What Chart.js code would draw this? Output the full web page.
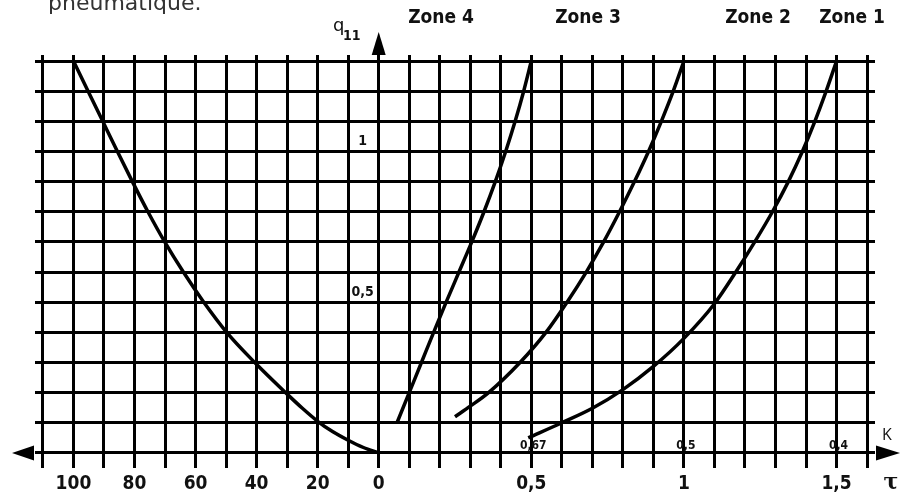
<!DOCTYPE html>
<html lang="fr">

<head>
  <meta charset="UTF-8">
  <title>Zones q11</title>
  <script src="https://cdn.jsdelivr.net/npm/chart.js"></script>
  <style>
    body {
      margin: 0;
      background: #fff;
    }

    .chart-container {
      position: relative;
      width: 911px;
      height: 497px;
    }
  </style>
</head>

<body>
  <div class="chart-container"><canvas id="g"></canvas></div>

  <script>
    // courbe gauche (en %)
    const leftPct = [100, 95.2, 90.4, 85.6, 80.7, 75.6, 70.1, 64, 57.3, 49.8, 40.6, 30.5, 25, 20, 15, 10, 5, 0];
    const leftQ = [1.3, 1.2, 1.1, 1.0, 0.9, 0.8, 0.7, 0.6, 0.5, 0.4, 0.3, 0.2, 0.148, 0.105, 0.07, 0.042, 0.018, 0];
    // courbes droite (en tau)
    const z4T = [0.06, 0.1, 0.14, 0.18, 0.221, 0.263, 0.305, 0.345, 0.382, 0.416, 0.447, 0.475, 0.5];
    const z4Q = [0.1, 0.2, 0.3, 0.4, 0.5, 0.6, 0.7, 0.8, 0.9, 1.0, 1.1, 1.2, 1.3];
    const z3T = [0.25, 0.3, 0.36, 0.463, 0.548, 0.617, 0.68, 0.737, 0.789, 0.838, 0.884, 0.926, 0.965, 1.0];
    const z3Q = [0.12, 0.155, 0.2, 0.3, 0.4, 0.5, 0.6, 0.7, 0.8, 0.9, 1.0, 1.1, 1.2, 1.3];
    const z2T = [0.49, 0.6, 0.7, 0.8, 0.9, 1.0, 1.1, 1.17, 1.232, 1.29, 1.342, 1.388, 1.429, 1.466, 1.5];
    const z2Q = [0.05, 0.1, 0.148, 0.21, 0.287, 0.38, 0.495, 0.6, 0.7, 0.8, 0.9, 1.0, 1.1, 1.2, 1.3];

    // graduations
    const xTickPos = [-1, -0.8, -0.6, -0.4, -0.2, 0, 0.5, 1, 1.5];
    const xTickText = ['100', '80', '60', '40', '20', '0', '0,5', '1', '1,5'];
    const yTickPos = [1, 0.5];
    const yTickText = ['1', '0,5'];
    const kPos = [0.5, 1, 1.5];
    const kText = ['0,67', '0,5', '0,4'];
    const zones = ['Zone 4', 'Zone 3', 'Zone 2', 'Zone 1'];

    const gridX = [];
    for (let i = -11; i <= 16; i++) gridX.push(i / 10);
    const gridY = [];
    for (let i = 0; i <= 13; i++) gridY.push(i / 10);

    function pts(xs, ys) {
      return xs.map((v, i) => ({ x: v, y: ys[i] }));
    }

    function ds(d) {
      return {
        data: d,
        borderColor: '#000',
        borderWidth: 3.5,
        pointRadius: 0,
        cubicInterpolationMode: 'monotone',
        fill: false
      };
    }

    const deco = {
      id: 'deco',
      afterDraw(ch) {
        const c = ch.ctx;
        const sx = ch.scales.x;
        const sy = ch.scales.y;
        const x0 = sx.getPixelForValue(0);
        const y0 = sy.getPixelForValue(0);
        c.save();
        c.fillStyle = '#000';

        // fleches
        c.beginPath();
        c.moveTo(x0, 32); c.lineTo(x0 - 7, 55); c.lineTo(x0 + 7, 55); c.closePath(); c.fill();
        c.beginPath();
        c.moveTo(12, y0); c.lineTo(34, y0 - 7.5); c.lineTo(34, y0 + 7.5); c.closePath(); c.fill();
        c.beginPath();
        c.moveTo(900, y0); c.lineTo(876, y0 - 7.5); c.lineTo(876, y0 + 7.5); c.closePath(); c.fill();

        // titre coupe
        c.fillStyle = '#333';
        c.font = '22px "DejaVu Sans"';
        c.textAlign = 'left';
        c.textBaseline = 'alphabetic';
        c.fillText('pneumatique.', 48, 10);

        // zones
        c.fillStyle = '#111';
        c.font = 'bold 19px "DejaVu Sans Condensed", "Liberation Sans Narrow"';
        c.textAlign = 'center';
        c.textBaseline = 'middle';
        const zx = [441, 588, 758, 852];
        zones.forEach((t, i) => c.fillText(t, zx[i], 18));

        // q11
        c.textAlign = 'left';
        c.textBaseline = 'alphabetic';
        c.font = '18px "DejaVu Sans"';
        c.fillText('q', 333, 31);
        c.font = 'bold 14px "DejaVu Sans Condensed"';
        c.fillText('11', 343, 40);

        // graduations q
        c.textAlign = 'center';
        c.textBaseline = 'middle';
        c.font = 'bold 14px "DejaVu Sans Condensed"';
        yTickPos.forEach((v, i) => c.fillText(yTickText[i], x0 - 16, sy.getPixelForValue(v) - 10));

        // graduations K
        c.font = 'bold 12px "DejaVu Sans Condensed"';
        kPos.forEach((v, i) => c.fillText(kText[i], sx.getPixelForValue(v) + 2, y0 - 7));

        c.font = '16px "Open Sans"';
        c.fillText('K', 887, 435);
        c.font = 'bold 22px "DejaVu Serif"';
        c.fillText('\u03c4', 891, 483);
        c.restore();
      }
    };

    new Chart(document.getElementById('g'), {
      type: 'line',
      data: {
        datasets: [
          ds(pts(leftPct.map(p => -p / 100), leftQ)),
          ds(pts(z4T, z4Q)),
          ds(pts(z3T, z3Q)),
          ds(pts(z2T, z2Q))
        ]
      },
      options: {
        responsive: true,
        maintainAspectRatio: false,
        animation: false,
        events: [],
        layout: { padding: { left: 35, right: 36, top: 55, bottom: 0 } },
        plugins: { legend: { display: false }, tooltip: { enabled: false } },
        scales: {
          x: {
            type: 'linear',
            min: -1.126,
            max: 1.626,
            afterBuildTicks: s => { s.ticks = gridX.map(v => ({ value: v })); },
            afterFit: s => { s.height = 29; },
            border: { display: false },
            grid: { color: '#000', lineWidth: 3, drawTicks: false },
            ticks: {
              autoSkip: false,
              maxRotation: 0,
              padding: 5,
              color: '#111',
              font: { family: '"DejaVu Sans Condensed"', size: 19, weight: 'bold' },
              callback: v => {
                const i = xTickPos.findIndex(p => Math.abs(p - v) < 1e-6);
                return i < 0 ? '' : xTickText[i];
              }
            }
          },
          y: {
            type: 'linear',
            min: -0.05,
            max: 1.32,
            afterBuildTicks: s => { s.ticks = gridY.map(v => ({ value: v })); },
            afterFit: s => { s.width = 0; },
            border: { display: false },
            grid: { color: '#000', lineWidth: 3, drawTicks: false },
            ticks: { display: false }
          }
        }
      },
      plugins: [deco]
    });
  </script>
</body>

</html>
